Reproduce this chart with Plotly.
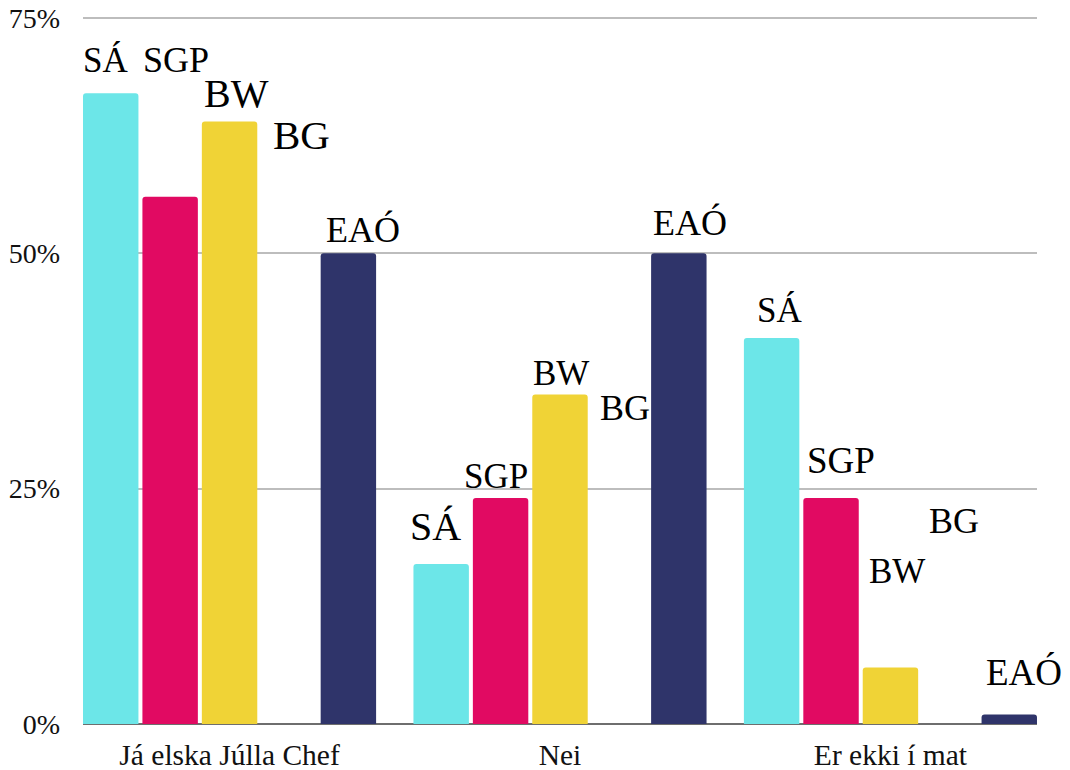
import plotly.graph_objects as go

# ---- data ----
categories = ["Já elska Júlla Chef", "Nei", "Er ekki í mat"]
series_names = ["SÁ", "SGP", "BW", "BG", "EAÓ"]
sa_values = [67, 17, 41]
sgp_values = [56, 24, 24]
bw_values = [64, 35, 6]
bg_values = [0, 0, 0]
eao_values = [50, 50, 1]
y_tick_values = [0, 25, 50, 75]
y_tick_labels = ["0%", "25%", "50%", "75%"]

# label placement (baseline height in % units, per series per category)
label_base = {
    "SÁ": [69.1, 19.4, 42.5],
    "SGP": [69.1, 24.9, 26.5],
    "BW": [65.4, 35.8, 14.8],
    "BG": [60.9, 32.1, 20.1],
    "EAÓ": [51.1, 51.8, 4.0],
}
label_dx = {
    "SÁ": [0, -3, 13],
    "SGP": [1, -9, 4],
    "BW": [2, 1, 6],
    "BG": [12, 8, 7],
    "EAÓ": [5, 2, 4],
}
label_size = {
    "SÁ": [35, 40, 35],
    "SGP": [36, 35, 37],
    "BW": [40, 35, 35],
    "BG": [41, 36, 36],
    "EAÓ": [36, 36, 37],
}

colors = ["#6ce6e8", "#e10a62", "#f0d336", "#ffffff", "#2f346a"]
values = [sa_values, sgp_values, bw_values, bg_values, eao_values]

FONT = "Liberation Serif"
BARGAP = 0.101
BARGROUPGAP = 0.067
YMAX = 75.3

fig = go.Figure()
for name, vals, col in zip(series_names, values, colors):
    fig.add_trace(go.Bar(
        x=categories, y=vals, name=name,
        marker=dict(color=col, line=dict(width=0)),
        showlegend=False, hoverinfo="skip",
    ))

n = len(series_names)
slot = (1 - BARGAP) / n
barw = slot * (1 - BARGROUPGAP)
annotations = []
for j, name in enumerate(series_names):
    for i in range(len(categories)):
        size = label_size[name][i]
        left = i + (j - (n - 1) / 2) * slot - barw / 2
        annotations.append(dict(
            x=left, y=label_base[name][i], xref="x", yref="y",
            text=name, showarrow=False,
            xanchor="left", yanchor="bottom",
            xshift=label_dx[name][i] - 2, yshift=-0.24 * size,
            font=dict(family=FONT, size=size, color="#000000"),
        ))

fig.update_layout(
    width=1070, height=770,
    margin=dict(l=83, r=33, t=15, b=46),
    paper_bgcolor="white", plot_bgcolor="white",
    barmode="group", bargap=BARGAP, bargroupgap=BARGROUPGAP,
    barcornerradius=3,
    annotations=annotations,
    font=dict(family=FONT, color="#000000"),
)
fig.update_xaxes(
    type="category", range=[-0.4435, 2.4435],
    showgrid=False, showline=False, zeroline=False, ticks="",
    tickfont=dict(family=FONT, size=29.5, color="#111111"),
    ticklabelstandoff=10, automargin=False,
)
fig.update_yaxes(
    range=[0, YMAX], tickvals=y_tick_values, ticktext=y_tick_labels,
    showgrid=True, gridcolor="#bdbdbd", gridwidth=1.5,
    zeroline=True, zerolinecolor="#6e6e6e", zerolinewidth=2,
    showline=False, ticks="",
    tickfont=dict(family=FONT, size=28, color="#111111"),
    ticklabelstandoff=22, automargin=False,
)

fig.write_html(
    "out.html",
    config={"displayModeBar": False},
    post_script="document.body.style.margin='0';document.body.style.overflow='hidden';",
)
